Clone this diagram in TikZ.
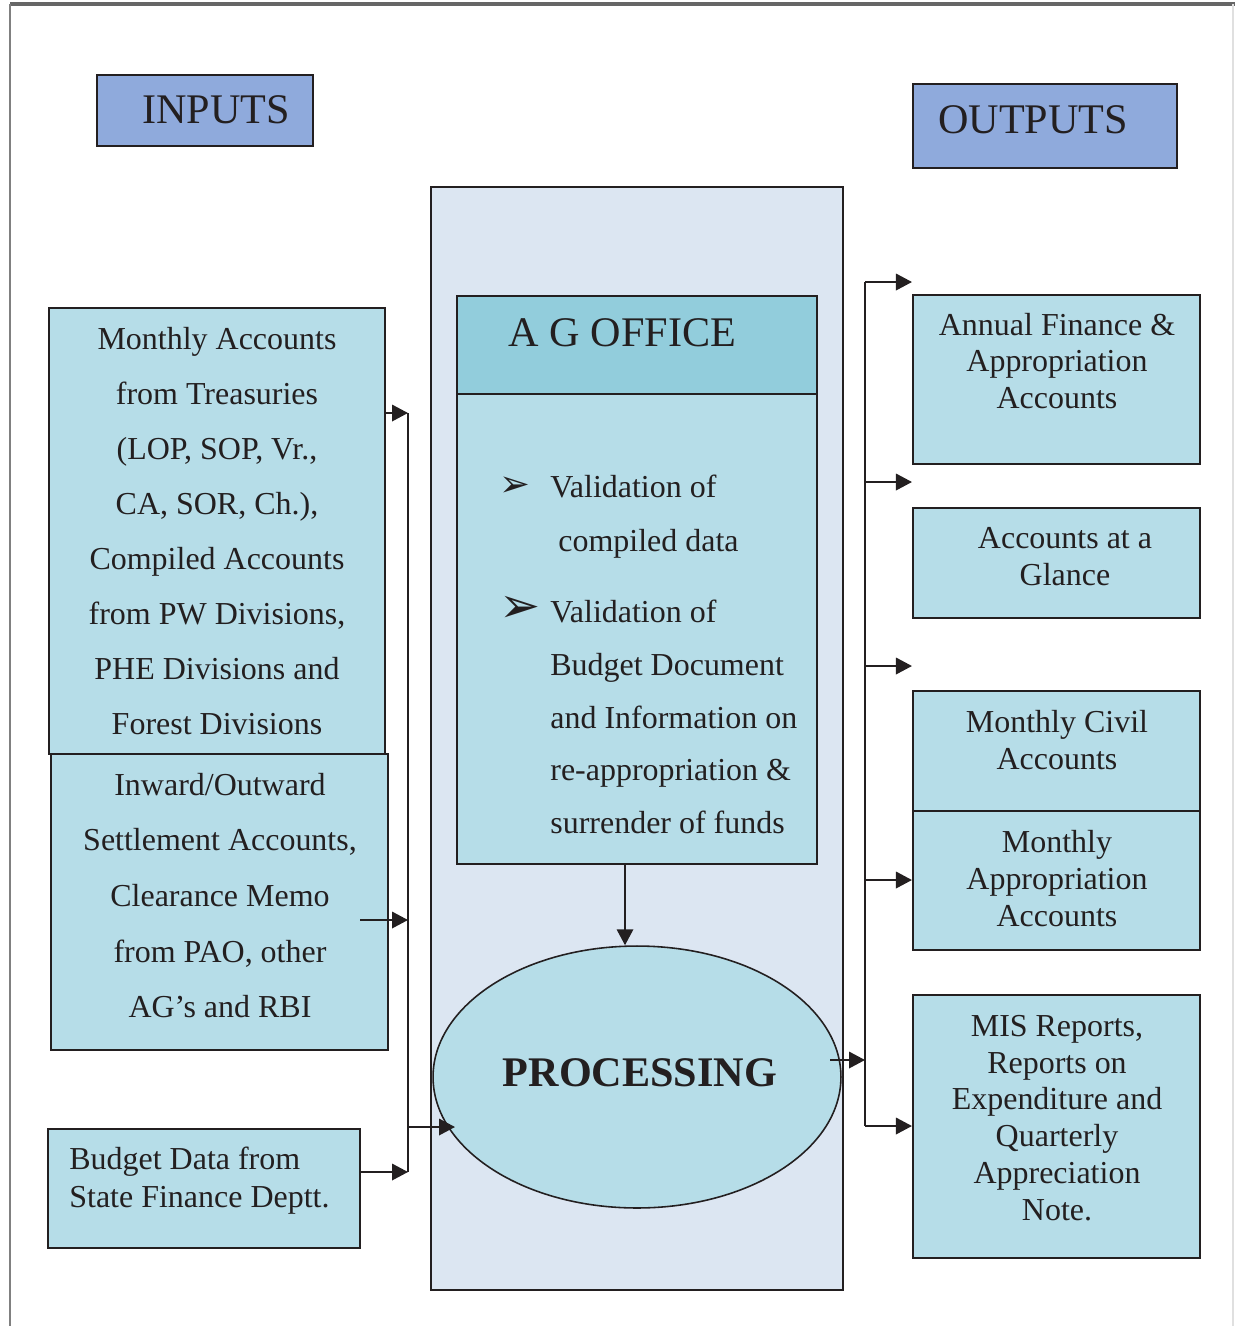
\documentclass[tikz,border=0pt]{standalone}
\usepackage{fontspec}
\setmainfont{Liberation Serif}
\newfontfamily\symfont{DejaVu Sans}
\usepackage{xcolor}
\usetikzlibrary{shapes.geometric}
\usetikzlibrary{arrows.meta}
\usetikzlibrary{calc}

\definecolor{boxblue}{HTML}{B6DDE8}
\definecolor{headblue}{HTML}{92CDDC}
\definecolor{paleblue}{HTML}{DCE6F2}
\definecolor{tagblue}{HTML}{8FAADC}
\definecolor{linecol}{HTML}{231F20}

\newcommand{\bodyfont}[1]{\fontsize{18.2}{#1}\selectfont}
\newcommand{\bigfont}{\fontsize{24}{28}\selectfont}

\tikzset{
  box/.style={draw=linecol, line width=1.2pt, fill=boxblue, inner sep=0pt},
  tagbox/.style={box, fill=tagblue},
  txt/.style={inner sep=0pt, align=center, text=linecol},
  bus/.style={draw=linecol, line width=1.1pt},
  arr/.style={bus, -{Triangle[length=0.32cm,width=0.33cm]}}
}

\begin{document}
\begin{tikzpicture}[x=0.02cm,y=-0.02cm]
\useasboundingbox (0,0) rectangle (1235,1326);
\draw[black!60, line width=1.8pt] (10,4) -- (1235,4);
\draw[black!50, line width=0.6pt] (10,4) -- (10,1326);
\draw[black!12, line width=0.8pt] (1233,4) -- (1233,1326);

% headings
\node[tagbox, minimum width=4.32cm, minimum height=1.42cm] (inputs) at (205,110.5) {};
\node[txt, font=\bigfont] (inputsT) at (216,110) {INPUTS};
\node[tagbox, minimum width=5.28cm, minimum height=1.68cm] (outputs) at (1045,126) {};
\node[txt, font=\bigfont] (outputsT) at (1033,120) {OUTPUTS};

% A G office
\node[box, fill=paleblue, minimum width=8.24cm, minimum height=22.06cm] (office) at (637,738.5) {};
\node[box, fill=headblue, minimum width=7.2cm, minimum height=1.96cm] (aghead) at (637,345) {};
\node[txt, font=\bigfont] (agheadT) at (622.5,333) {A G OFFICE};
\node[box, minimum width=7.2cm, minimum height=9.4cm] (agbody) at (637,629) {};
\node[txt, font=\symfont\fontsize{21}{24}\selectfont] (bul1) at (515,487) {➢};
\node[txt, align=left, anchor=west, font=\bodyfont{30.7}] (val1) at (550,517)
  {Validation of\\\hspace*{0.16cm}compiled data};
\node[txt, font=\symfont\fontsize{28}{30}\selectfont] (bul2) at (520,609) {➢};
\node[txt, align=left, anchor=west, font=\bodyfont{30.1}] (val2) at (550,717)
  {Validation of\\Budget Document\\and Information on\\re-appropriation \&\\surrender of funds};

\node[box, ellipse, line width=0.9pt, minimum width=8.16cm, minimum height=5.24cm] (proc) at (637,1077) {};
\node[txt, font=\bigfont\bfseries] (procT) at (640,1073) {PROCESSING};

% inputs
\node[box, minimum width=6.72cm, minimum height=8.92cm] (mon) at (217,531) {};
\node[txt, font=\bodyfont{31.3}] (monT) at (217,531)
  {Monthly Accounts\\from Treasuries\\(LOP, SOP, Vr.,\\CA, SOR, Ch.),\\Compiled Accounts\\from PW Divisions,\\PHE Divisions and\\Forest Divisions};
\node[box, minimum width=6.74cm, minimum height=5.92cm] (inw) at (219.5,902) {};
\node[txt, font=\bodyfont{31.7}] (inwT) at (220,895.5)
  {Inward/Outward\\Settlement Accounts,\\Clearance Memo\\from PAO, other\\AG’s and RBI};
\node[box, minimum width=6.24cm, minimum height=2.38cm] (bud) at (204,1188.5) {};
\node[txt, align=left, anchor=west, font=\bodyfont{21.6}] (budT) at (69,1181)
  {Budget Data from\\State Finance Deptt.};

% outputs
\node[box, minimum width=5.74cm, minimum height=3.38cm] (out1) at (1056.5,379.5) {};
\node[txt, font=\bodyfont{21}] (out1T) at (1057,361) {Annual Finance \&\\Appropriation\\Accounts};
\node[box, minimum width=5.74cm, minimum height=2.2cm] (out2) at (1056.5,563) {};
\node[txt, font=\bodyfont{21}] (out2T) at (1065,556.5) {Accounts at a\\Glance};
\node[box, minimum width=5.74cm, minimum height=2.4cm] (out3) at (1056.5,751) {};
\node[txt, font=\bodyfont{21}] (out3T) at (1057,740) {Monthly Civil\\Accounts};
\node[box, minimum width=5.74cm, minimum height=2.78cm] (out4) at (1056.5,880.5) {};
\node[txt, font=\bodyfont{21}] (out4T) at (1057,878.5) {Monthly\\Appropriation\\Accounts};
\node[box, minimum width=5.74cm, minimum height=5.26cm] (out5) at (1056.5,1126.5) {};
\node[txt, font=\bodyfont{21}] (out5T) at (1057,1118)
  {MIS Reports,\\Reports on\\Expenditure and\\Quarterly\\Appreciation\\Note.};

% connectors
\coordinate (p1) at ($(agbody.south)+(-12,0)$);
\draw[arr] (p1) -- (p1 |- proc.north);

\coordinate (lb1) at (408,413);
\coordinate (lb2) at (408,920);
\coordinate (lb3) at (408,1172);
\coordinate (lb4) at (408,1127);
\coordinate (inwout) at (360,920);
\coordinate (pin) at (455,1127);
\draw[bus] (lb1) -- (lb3);
\draw[arr] (mon.east |- lb1) -- (lb1);
\draw[arr] (inwout) -- (lb2);
\draw[arr] (bud.east |- lb3) -- (lb3);
\draw[arr] (lb4) -- (pin);

\coordinate (rb0) at (865,282);
\coordinate (rb5) at (865,1126);
\coordinate (pout) at (830,1060);
\draw[bus] (rb0) -- (rb5);
\draw[arr] (pout) -- (pout -| rb0);
\foreach \yy/\nn in {282/out1, 482/out2, 666/out3, 880/out4, 1126/out5}{
  \coordinate (r\nn) at (865,\yy);
  \draw[arr] (r\nn) -- (r\nn -| \nn.west);
}
\end{tikzpicture}
\end{document}
